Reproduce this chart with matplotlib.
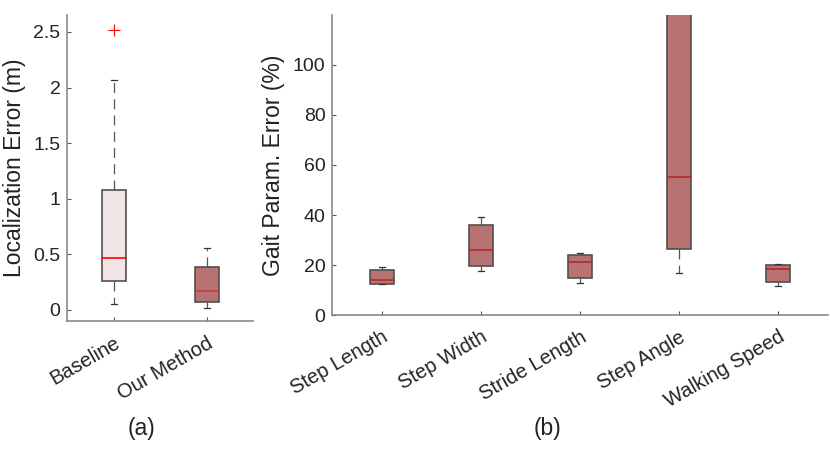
import matplotlib.pyplot as plt

plt.rcParams["font.family"] = ["Liberation Sans", "DejaVu Sans"]

# panel (a): localization error (m)
loc_labels = ["Baseline", "Our Method"]
loc_whislo = [0.055, 0.02]
loc_q1 = [0.26, 0.075]
loc_med = [0.465, 0.17]
loc_q3 = [1.08, 0.39]
loc_whishi = [2.07, 0.555]
loc_fliers = [[2.52], []]

# panel (b): gait parameter error (%)
gait_labels = ["Step Length", "Step Width", "Stride Length", "Step Angle", "Walking Speed"]
gait_whislo = [12.3, 17.5, 12.7, 16.8, 11.5]
gait_q1 = [12.6, 19.5, 15.0, 26.5, 13.3]
gait_med = [14.0, 26.1, 21.1, 55.2, 18.5]
gait_q3 = [18.2, 35.9, 24.1, 150.0, 20.2]
gait_whishi = [19.4, 39.4, 24.7, 200.0, 20.6]


def make_stats(lo, q1, med, q3, hi, fliers=None):
    out = []
    for i in range(len(lo)):
        out.append({"whislo": lo[i], "q1": q1[i], "med": med[i], "q3": q3[i],
                    "whishi": hi[i], "fliers": fliers[i] if fliers else []})
    return out


def style_axis(ax):
    for s in ["top", "right"]:
        ax.spines[s].set_visible(False)
    for s in ["left", "bottom"]:
        ax.spines[s].set_color("#8a8a8a")
        ax.spines[s].set_linewidth(1.2)
    ax.tick_params(direction="in", length=3, color="#555555", labelcolor="#222222")
    ax.tick_params(axis="y", labelsize=14, pad=5)
    ax.tick_params(axis="x", labelsize=14.5, pad=9)


def draw(ax, stats, faces, med_colors):
    bp = ax.bxp(stats, widths=0.25, patch_artist=True, showfliers=True,
                boxprops=dict(edgecolor="#505050", linewidth=1.2),
                whiskerprops=dict(color="#555555", linestyle=(0, (8, 5)), linewidth=0.9),
                capprops=dict(color="#333333", linewidth=0.9),
                flierprops=dict(marker="+", markeredgecolor="red", markersize=8, markeredgewidth=0.8))
    for patch, fc in zip(bp["boxes"], faces):
        patch.set_facecolor(fc)
    for line, mc in zip(bp["medians"], med_colors):
        line.set_color(mc)
        line.set_linewidth(1.2)
    # caps half as wide as the boxes
    for cap in bp["caps"]:
        x0, x1 = cap.get_xdata()
        c = (x0 + x1) / 2
        cap.set_xdata([c - (x1 - x0) / 4, c + (x1 - x0) / 4])


fig = plt.figure(figsize=(8.3, 4.57), dpi=100)

ax1 = fig.add_axes([0.0813, 0.2976, 0.2241, 0.669])
draw(ax1, make_stats(loc_whislo, loc_q1, loc_med, loc_q3, loc_whishi, loc_fliers),
     ["#f3e5e5", "#b87272"], ["#ff0000", "#c43c3c"])
ax1.set_xlim(0.5, 2.5)
ax1.set_ylim(-0.1, 2.65)
ax1.set_yticks([0, 0.5, 1, 1.5, 2, 2.5])
ax1.set_yticklabels(["0", "0.5", "1", "1.5", "2", "2.5"])
ax1.set_xticks([1, 2])
ax1.set_xticklabels(loc_labels, rotation=30, ha="right", rotation_mode="anchor")
ax1.set_ylabel("Localization Error (m)", fontsize=16.5, color="#222222", labelpad=5)
style_axis(ax1)

ax2 = fig.add_axes([0.4006, 0.3107, 0.5964, 0.6565])
draw(ax2, make_stats(gait_whislo, gait_q1, gait_med, gait_q3, gait_whishi),
     ["#b87272"] * 5, ["#b52a2a"] * 5)
ax2.set_xlim(0.5, 5.5)
ax2.set_ylim(0, 120)
ax2.set_yticks([0, 20, 40, 60, 80, 100])
ax2.set_xticks([1, 2, 3, 4, 5])
ax2.set_xticklabels(gait_labels, rotation=30, ha="right", rotation_mode="anchor")
ax2.set_ylabel("Gait Param. Error (%)", fontsize=16.5, color="#222222", labelpad=6)
style_axis(ax2)

fig.text(141 / 830, 1 - 428 / 457, "(a)", fontsize=16.5, ha="center", va="center", color="#222222")
fig.text(547 / 830, 1 - 428 / 457, "(b)", fontsize=16.5, ha="center", va="center", color="#222222")

fig.savefig("out.png", dpi=100)
